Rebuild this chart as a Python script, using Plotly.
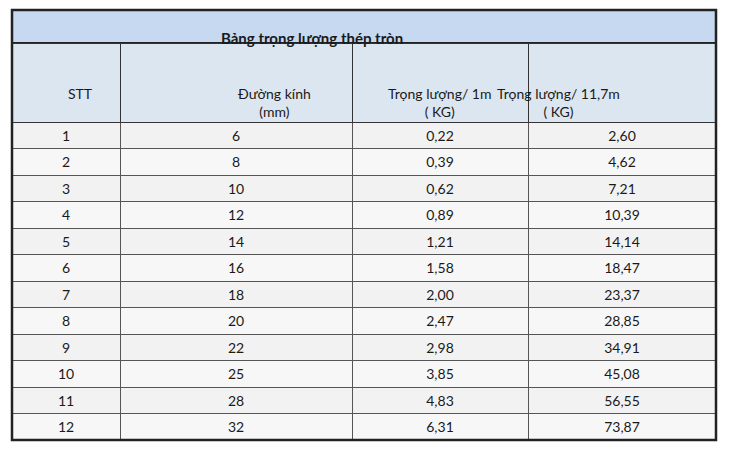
import plotly.graph_objects as go

title = "Bảng trọng lượng thép tròn"
headers = ["STT", "Đường kính<br>(mm)", "Trọng lượng/ 1m<br>( KG)", "Trọng lượng/ 11,7m<br>( KG)"]
stt = [str(i) for i in range(1, 13)]
duong_kinh = ["6", "8", "10", "12", "14", "16", "18", "20", "22", "25", "28", "32"]
tl_1m = ["0,22", "0,39", "0,62", "0,89", "1,21", "1,58", "2,00", "2,47", "2,98", "3,85", "4,83", "6,31"]
tl_117m = ["2,60", "4,62", "7,21", "10,39", "14,14", "18,47", "23,37", "28,85", "34,91", "45,08", "56,55", "73,87"]

# page body has an 8px margin, so work in figure coords shifted by 8
OFF = 8
W, H = 730 - 2 * OFF, 450 - 2 * OFF
x0, x1 = 12 - OFF, 716 - OFF
y_title, y_head, y_bot = 10 - OFF, 43 - OFF, 440 - OFF
col_edges = [12, 120, 352, 528, 716]
colw = [b - a for a, b in zip(col_edges[:-1], col_edges[1:])]

fills = [["#f2f2f2" if i % 2 == 0 else "#f7f7f7" for i in range(12)]] * 4
font = dict(family="Lato, Open Sans, sans-serif", size=14, color="#1a1a1a")

fig = go.Figure(go.Table(
    domain=dict(x=[x0 / W, x1 / W], y=[1 - y_bot / H, 1 - y_head / H]),
    columnwidth=colw,
    header=dict(values=[""] * 4, height=79, fill_color="#dce6f1",
                line=dict(color="#333333", width=1), align="center", font=font),
    cells=dict(values=[stt, duong_kinh, tl_1m, tl_117m], height=26.5, fill_color=fills,
               line=dict(color="#555555", width=1), align="center", font=font),
))

# header labels as annotations so each line is centred
for i, h in enumerate(headers):
    cx = ((col_edges[i] + col_edges[i + 1]) / 2 - OFF) / W
    fig.add_annotation(text=h, xref="paper", yref="paper", x=cx,
                       y=1 - (y_head + 40) / H, showarrow=False, font=font,
                       align="center")

fig.add_shape(type="rect", xref="paper", yref="paper",
              x0=x0 / W, x1=x1 / W, y0=1 - y_head / H, y1=1 - y_title / H,
              fillcolor="#c6d9f1", line=dict(color="#222222", width=2), layer="below")
fig.add_annotation(text="<b>" + title + "</b>", xref="paper", yref="paper",
                   x=(312 - OFF) / W, y=1 - (y_title + y_head) / 2 / H, showarrow=False,
                   font=dict(family="Lato, Open Sans, sans-serif", size=15, color="#1a1a1a"))
fig.add_shape(type="rect", xref="paper", yref="paper",
              x0=x0 / W, x1=x1 / W, y0=1 - y_bot / H, y1=1 - y_title / H,
              line=dict(color="#222222", width=2.5))

fig.update_layout(width=W, height=H, margin=dict(l=0, r=0, t=0, b=0),
                  paper_bgcolor="white")
fig.write_html("out.html")
